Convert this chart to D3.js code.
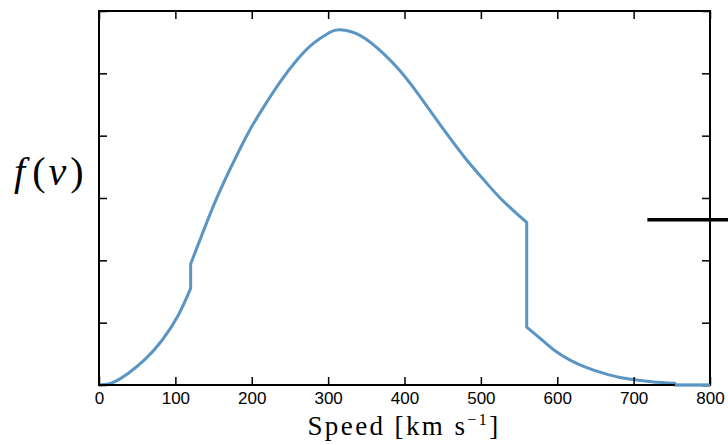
<!DOCTYPE html>
<html>
<head>
<meta charset="utf-8">
<script src="https://cdn.jsdelivr.net/npm/d3@7"></script>
<style>
  html, body { margin: 0; padding: 0; background: #fff; }
  svg { display: block; }
</style>
</head>
<body>
<svg id="chart" width="728" height="445"></svg>
<script>
// ---- data ----
// Speed in km/s; repeated speeds mark the two vertical jumps (120 and 560 km/s).
const speedKms = [0, 10, 20, 38.4, 60.2, 82.1, 103.8, 120,
                  120, 149.7, 171.5, 193.4, 215.1, 237.0, 258.9, 280.6, 302.4, 315.5, 341.7,
                  372.2, 394.1, 416.0, 437.7, 459.6, 481.5, 503.2, 525.2, 546.9, 560,
                  560, 577.4, 594.8, 616.7, 638.5, 660.3, 682.1, 704.0, 725.7, 754,
                  754, 800];
const density  = [0, 0.013, 0.05, 0.19, 0.41, 0.71, 1.12, 1.55,
                  1.94, 2.87, 3.46, 4.00, 4.45, 4.86, 5.21, 5.48, 5.66, 5.70, 5.61,
                  5.32, 5.04, 4.70, 4.33, 3.96, 3.61, 3.30, 3.00, 2.75, 2.61,
                  0.93, 0.75, 0.57, 0.40, 0.28, 0.19, 0.12, 0.08, 0.05, 0.03,
                  0, 0];
const xTicks = [0, 100, 200, 300, 400, 500, 600, 700, 800];
const yTicks = [0, 1, 2, 3, 4, 5, 6];
const xDomain = [0, 800];
const yDomain = [0, 6];
// short black stub at the right edge (partly outside the axes)
const stubSpeed = [718, 825];
const stubLevel = 2.65;

(function () {
// ---- layout ----
const svg = d3.select("#chart");
const mLeft = 99, mRight = 710, mTop = 11, mBottom = 385;
const x = d3.scaleLinear().domain(xDomain).range([mLeft, mRight]);
const y = d3.scaleLinear().domain(yDomain).range([mBottom, mTop]);

// curve: split into continuous segments at repeated speeds, join with vertical lines
const pts = speedKms.map((v, i) => [v, density[i]]);
const segs = [];
let cur = [pts[0]];
for (let i = 1; i < pts.length; i++) {
  if (pts[i][0] === pts[i - 1][0]) { segs.push(cur); cur = [pts[i]]; }
  else cur.push(pts[i]);
}
segs.push(cur);
const line = d3.line().x(d => x(d[0])).y(d => y(d[1])).curve(d3.curveNatural);
let dPath = "";
segs.forEach((s, i) => {
  let p = s.length > 1 ? line(s) : `M${x(s[0][0])},${y(s[0][1])}`;
  if (i > 0) p = "L" + p.slice(1);
  dPath += p;
});

svg.append("path")
  .attr("d", dPath)
  .attr("fill", "none")
  .attr("stroke", "#5a95c4")
  .attr("stroke-width", 3)
  .attr("stroke-linejoin", "round");

// axes (ticks pointing inward)
const axisFont = "'Liberation Sans', Arial, Helvetica, sans-serif";
const gB = svg.append("g").attr("transform", `translate(0,${mBottom})`)
  .call(d3.axisBottom(x).tickValues(xTicks).tickSizeInner(-8).tickSizeOuter(0).tickFormat(d3.format("d")));
gB.selectAll("text").attr("y", 19).attr("dy", 0)
  .style("font-family", axisFont).style("font-size", "17px").attr("fill", "#000");
const gT = svg.append("g").attr("transform", `translate(0,${mTop})`)
  .call(d3.axisTop(x).tickValues(xTicks).tickSizeInner(-8).tickSizeOuter(0).tickFormat(""));
const gL = svg.append("g").attr("transform", `translate(${mLeft},0)`)
  .call(d3.axisLeft(y).tickValues(yTicks).tickSizeInner(-8).tickSizeOuter(0).tickFormat(""));
const gR = svg.append("g").attr("transform", `translate(${mRight},0)`)
  .call(d3.axisRight(y).tickValues(yTicks).tickSizeInner(-8).tickSizeOuter(0).tickFormat(""));
[gB, gT, gL, gR].forEach(g => {
  g.select(".domain").remove();
  g.selectAll(".tick line").attr("stroke", "#000").attr("stroke-width", 1.5);
});

// frame
svg.append("rect")
  .attr("x", mLeft).attr("y", mTop)
  .attr("width", mRight - mLeft).attr("height", mBottom - mTop)
  .attr("fill", "none").attr("stroke", "#000").attr("stroke-width", 2);

// redraw the zero-density tail on top of the bottom spine
const tail = pts.filter(p => p[0] >= 754 && p[1] === 0);
svg.append("path")
  .attr("d", d3.line().x(d => x(d[0])).y(d => y(d[1]))(tail))
  .attr("fill", "none").attr("stroke", "#5a95c4").attr("stroke-width", 2.5);

// black stub
svg.append("line")
  .attr("x1", x(stubSpeed[0])).attr("x2", x(stubSpeed[1]))
  .attr("y1", y(stubLevel)).attr("y2", y(stubLevel))
  .attr("stroke", "#000").attr("stroke-width", 3.5);

// x label
const serif = "'Liberation Serif', 'DejaVu Serif', serif";
const xl = svg.append("text")
  .attr("x", 404).attr("y", 435)
  .attr("text-anchor", "middle")
  .style("font-family", serif).style("font-size", "27px")
  .style("letter-spacing", "2.4px").attr("fill", "#000");
xl.append("tspan").text("Speed [km s");
xl.append("tspan").attr("dy", -10).style("font-size", "16px").text("\u22121");
xl.append("tspan").attr("dy", 10).text("]");

// y label
const yl = svg.append("text")
  .attr("x", 14).attr("y", 185)
  .style("font-family", serif).style("font-size", "40px").attr("fill", "#000");
yl.append("tspan").style("font-style", "italic").text("f");
yl.append("tspan").attr("dx", 7).text("(");
yl.append("tspan").attr("dx", 3).style("font-style", "italic").text("v");
yl.append("tspan").attr("dx", 4).text(")");
})();
</script>
</body>
</html>
